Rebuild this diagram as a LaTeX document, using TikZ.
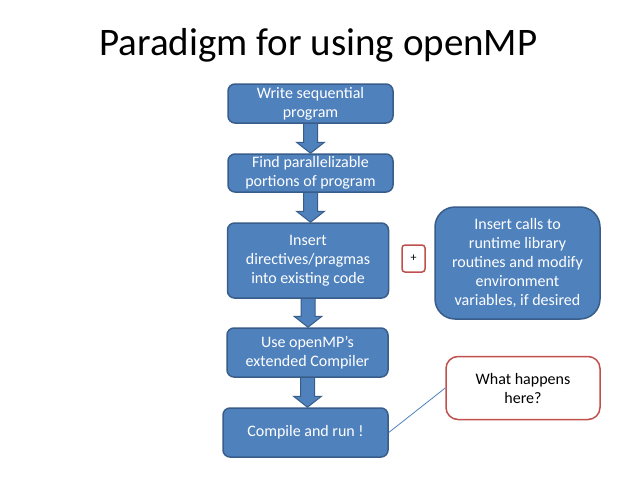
\documentclass[tikz,border=0pt]{standalone}
\usepackage{fontspec}
\setmainfont{Carlito}
\usetikzlibrary{calc,backgrounds}
\definecolor{boxblue}{HTML}{4F81BD}
\definecolor{edgeblue}{HTML}{385D8A}
\definecolor{boxred}{HTML}{C0504D}
\tikzset{
  bluebox/.style={draw=edgeblue, fill=boxblue, line width=1.5pt, rounded corners=7pt,
    text=white, font=\fontsize{16}{19}\selectfont, align=center, inner sep=0pt},
  redbox/.style={draw=boxred, fill=white, line width=1.5pt, rounded corners=12pt,
    text=black, font=\fontsize{16}{19}\selectfont, align=center, inner sep=0pt},
  barrow/.style={fill=boxblue, draw=edgeblue, line width=1pt, line join=miter},
  calloutline/.style={draw=boxblue, line width=0.8pt},
}
\newcommand{\blockarr}[2]{%
  \filldraw[barrow] let \p1=(#1.south), \p2=(#2.north) in
    (\x1-7pt,\y1+4pt) -- (\x1+7pt,\y1+4pt) -- (\x1+7pt,\y2+11pt) -- (\x1+14pt,\y2+11pt)
    -- (\x1,\y2) -- (\x1-14pt,\y2+11pt) -- (\x1-7pt,\y2+11pt) -- cycle;}
\begin{document}
\begin{tikzpicture}[x=1pt,y=-1pt]
  \useasboundingbox (0,0) rectangle (638,479);
  \node[anchor=base, font=\fontsize{39}{47}\selectfont] (title) at (318.5,55) {Paradigm for using openMP};
  \node[bluebox, minimum width=165pt, minimum height=39pt] (b1) at (310.5,103.5) {Write sequential\\program};
  \node[bluebox, minimum width=165pt, minimum height=38pt] (b2) at (310.5,173) {Find parallelizable\\portions of program};
  \node[bluebox, minimum width=161pt, minimum height=75pt] (b3) at (308,260.5) {Insert\\directives/pragmas\\into existing code};
  \node[bluebox, minimum width=161pt, minimum height=49pt] (b4) at (307.5,352.5) {Use openMP’s\\extended Compiler};
  \node[bluebox, minimum width=165pt, minimum height=49pt] (b5) at (305.5,432.5) {Compile and run !};
  \node[bluebox, rounded corners=20pt, minimum width=165pt, minimum height=112pt] (r) at (517.5,263)
    {Insert calls to\\runtime library\\routines and modify\\environment\\variables, if desired};
  \node[redbox, rounded corners=3pt, minimum width=23pt, minimum height=27pt, font=\fontsize{12}{14}\selectfont] (plus) at (413.5,258.5) {+};
  \node[redbox, minimum width=154pt, minimum height=63pt] (q) at (523,388) {What happens\\here?};
  \begin{scope}[on background layer]
    \fill[white] (0,0) rectangle (638,479);
    \blockarr{b1}{b2}
    \blockarr{b2}{b3}
    \blockarr{b3}{b4}
    \blockarr{b4}{b5}
  \end{scope}
  \draw[calloutline] (b5.east) -- (q.west);
\end{tikzpicture}
\end{document}
